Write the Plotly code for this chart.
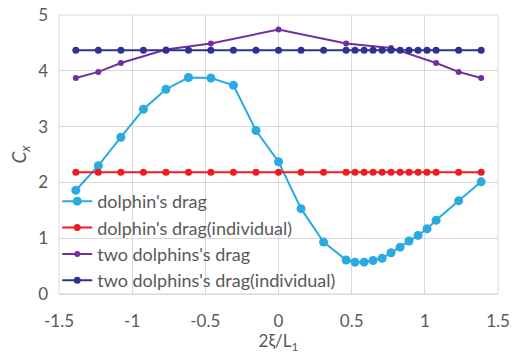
import plotly.graph_objects as go

# x positions (2ξ/L1)
x_all = [-1.385, -1.231, -1.077, -0.923, -0.769, -0.615, -0.462, -0.308, -0.154,
         0.0, 0.154, 0.308, 0.462, 0.523, 0.585, 0.646, 0.708, 0.769, 0.831,
         0.892, 0.954, 1.015, 1.077, 1.231, 1.385]

dolphin_drag = [1.86, 2.30, 2.81, 3.31, 3.67, 3.88, 3.87, 3.74, 2.93,
                2.37, 1.53, 0.93, 0.61, 0.57, 0.57, 0.60, 0.64, 0.74, 0.84,
                0.95, 1.05, 1.17, 1.32, 1.67, 2.01]

dolphin_indiv = [2.18] * 25

x_two = [-1.385, -1.231, -1.077, -0.769, -0.462, 0.0, 0.462, 0.769, 1.077, 1.231, 1.385]
two_drag = [3.87, 3.98, 4.14, 4.38, 4.49, 4.74, 4.49, 4.41, 4.14, 3.98, 3.87]

two_indiv = [4.37] * 25

names = ["dolphin's drag", "dolphin's drag(individual)",
         "two dolphins's drag", "two dolphins's drag(individual)"]
colors = ["#29ABE2", "#ED1C24", "#7030A0", "#2E3192"]

fig = go.Figure()
fig.add_trace(go.Scatter(x=x_all, y=dolphin_drag, name=names[0], mode="lines+markers",
                         line=dict(color=colors[0], width=2), marker=dict(size=9, color=colors[0])))
fig.add_trace(go.Scatter(x=x_all, y=dolphin_indiv, name=names[1], mode="lines+markers",
                         line=dict(color=colors[1], width=2), marker=dict(size=7, color=colors[1])))
fig.add_trace(go.Scatter(x=x_two, y=two_drag, name=names[2], mode="lines+markers",
                         line=dict(color=colors[2], width=2), marker=dict(size=6, color=colors[2])))
fig.add_trace(go.Scatter(x=x_all, y=two_indiv, name=names[3], mode="lines+markers",
                         line=dict(color=colors[3], width=2), marker=dict(size=7, color=colors[3])))

fig.update_layout(
    width=515, height=354,
    margin=dict(l=59, r=17, t=15, b=60),
    paper_bgcolor="white", plot_bgcolor="white",
    font=dict(family="Lato", size=17, color="#595959"),
    showlegend=True,
    legend=dict(x=-0.004, y=0.398, xanchor="left", yanchor="top",
                bgcolor="rgba(0,0,0,0)", font=dict(size=18, color="#595959"),
                tracegroupgap=0, itemwidth=30),
    xaxis=dict(range=[-1.5, 1.5], tickvals=[-1.5, -1, -0.5, 0, 0.5, 1, 1.5],
               ticktext=["-1.5", "-1", "-0.5", "0", "0.5", "1", "1.5"],
               showgrid=True, gridcolor="#D9D9D9", gridwidth=1,
               zeroline=False, showline=True, linecolor="#D9D9D9",
               ticks="", ticklabelstandoff=12, automargin=False,
               title=dict(text="2ξ/L<sub>1</sub>", font=dict(size=17), standoff=4)),
    yaxis=dict(range=[0, 5], tickvals=[0, 1, 2, 3, 4, 5],
               showgrid=True, gridcolor="#D9D9D9", gridwidth=1,
               zeroline=False, showline=False, ticks="", ticklabelstandoff=10,
               automargin=False,
               title=dict(text="<i>C<sub>x</sub></i>", font=dict(size=19), standoff=6)),
)
fig.add_shape(type="rect", xref="paper", yref="paper", x0=0, y0=0, x1=1, y1=1,
              line=dict(color="#D9D9D9", width=1), layer="below")

fig.write_html("out.html")
